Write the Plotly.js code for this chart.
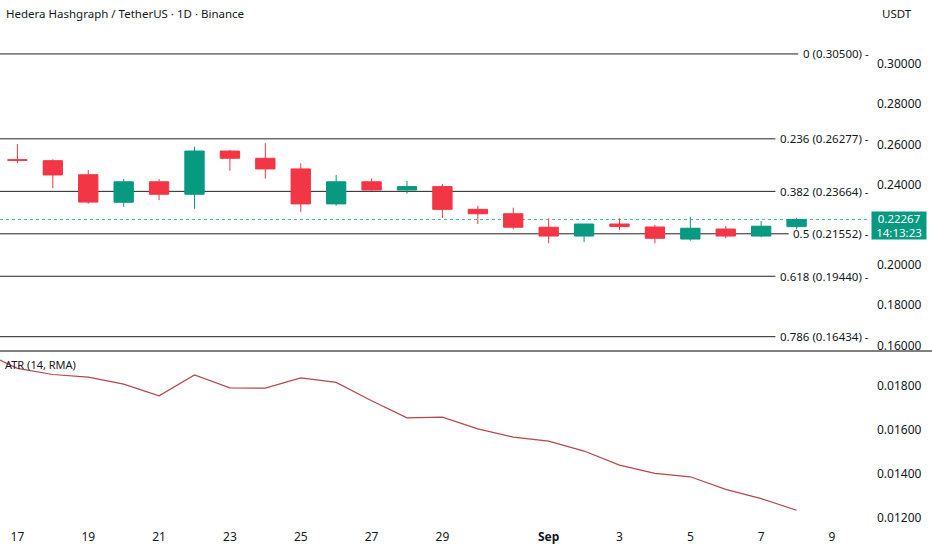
<!DOCTYPE html>
<html>
<head>
<meta charset="utf-8">
<script src="https://cdn.plot.ly/plotly-3.0.1.min.js"></script>
<style>html,body{margin:0;padding:0;background:#fff;}#chart{width:932px;height:550px;}</style>
</head>
<body>
<div id="chart"></div>
<script>
const dates = ['2025-08-17','2025-08-18','2025-08-19','2025-08-20','2025-08-21','2025-08-22','2025-08-23','2025-08-24','2025-08-25','2025-08-26','2025-08-27','2025-08-28','2025-08-29','2025-08-30','2025-08-31','2025-09-01','2025-09-02','2025-09-03','2025-09-04','2025-09-05','2025-09-06','2025-09-07','2025-09-08'];
const openP  = [0.2524,0.2519,0.2449,0.2312,0.2414,0.2352,0.2567,0.2531,0.2478,0.2304,0.2414,0.2373,0.2390,0.2277,0.2255,0.2188,0.2144,0.2204,0.2189,0.2129,0.2179,0.2144,0.2191];
const highP  = [0.2602,0.2526,0.2473,0.2428,0.2428,0.2589,0.2572,0.2606,0.2506,0.2448,0.2431,0.2418,0.2403,0.2294,0.2285,0.2232,0.2204,0.2232,0.2199,0.2240,0.2194,0.2219,0.2235];
const lowP   = [0.2506,0.2382,0.2305,0.2290,0.2323,0.2280,0.2469,0.2430,0.2265,0.2295,0.2370,0.2355,0.2234,0.2204,0.2178,0.2108,0.2114,0.2174,0.2108,0.2121,0.2133,0.2138,0.2178];
const closeP = [0.2521,0.2448,0.2313,0.2414,0.2352,0.2567,0.2531,0.2478,0.2304,0.2414,0.2373,0.2390,0.2277,0.2255,0.2188,0.2144,0.2204,0.2191,0.2133,0.2183,0.2144,0.2193,0.22267];

const atrDates = ['2025-08-16','2025-08-17','2025-08-18','2025-08-19','2025-08-20','2025-08-21','2025-08-22','2025-08-23','2025-08-24','2025-08-25','2025-08-26','2025-08-27','2025-08-28','2025-08-29','2025-08-30','2025-08-31','2025-09-01','2025-09-02','2025-09-03','2025-09-04','2025-09-05','2025-09-06','2025-09-07','2025-09-08'];
const atrValues = [0.01954,0.01878,0.01850,0.01838,0.01806,0.01753,0.01848,0.01789,0.01788,0.01835,0.01814,0.01731,0.01653,0.01656,0.01603,0.01565,0.01547,0.01502,0.01438,0.01401,0.01385,0.01328,0.01286,0.01233];

const fibRatios = ['0','0.236','0.382','0.5','0.618','0.786'];
const fibPrices = [0.30500,0.26277,0.23664,0.21552,0.19440,0.16434];

const priceTicks = [0.16,0.18,0.20,0.24,0.26,0.28,0.30];
const atrTicks = [0.012,0.014,0.016,0.018];
const xTickVals = ['2025-08-17','2025-08-19','2025-08-21','2025-08-23','2025-08-25','2025-08-27','2025-08-29','2025-09-01','2025-09-03','2025-09-05','2025-09-07','2025-09-09'];
const xTickText = ['17','19','21','23','25','27','29','<b>Sep</b>','3','5','7','9'];

const lastPrice = 0.22267;
const countdown = '14:13:23';

const GREEN = '#089981', RED = '#F23645', TXT = '#131722';
const FONT = 'Noto Sans, Open Sans, sans-serif';
const PLOT_W = 870;
const FIB_FONT = 11.5;

const measureCtx = document.createElement('canvas').getContext('2d');
measureCtx.font = FIB_FONT + 'px "Noto Sans"';

const traces = [
  {
    type: 'candlestick', x: dates, open: openP, high: highP, low: lowP, close: closeP,
    xaxis: 'x', yaxis: 'y',
    increasing: {line: {color: GREEN, width: 1}, fillcolor: GREEN},
    decreasing: {line: {color: RED, width: 1}, fillcolor: RED},
    whiskerwidth: 0, hoverinfo: 'skip', showlegend: false
  },
  {
    type: 'scatter', mode: 'lines', x: atrDates, y: atrValues,
    xaxis: 'x', yaxis: 'y2',
    line: {color: '#B5474C', width: 1.2}, hoverinfo: 'skip', showlegend: false
  }
];

const shapes = [];
const annotations = [];
fibPrices.forEach((p, i) => {
  const label = fibRatios[i] + ' (' + p.toFixed(5) + ') -';
  const w = measureCtx.measureText(label).width;
  const x1 = (PLOT_W - w - 6) / PLOT_W;
  shapes.push({type: 'line', xref: 'paper', yref: 'y', x0: 0, x1: x1, y0: p, y1: p,
    line: {color: '#222', width: 1}, layer: 'below'});
  annotations.push({xref: 'paper', yref: 'y', x: 1, y: p, xanchor: 'right', yanchor: 'middle',
    text: label, showarrow: false, borderpad: 0,
    font: {family: FONT, size: FIB_FONT, color: TXT}});
});
shapes.push({type: 'line', xref: 'paper', yref: 'y', x0: 0, x1: 1, y0: lastPrice, y1: lastPrice,
  line: {color: '#3fb8a4', width: 1, dash: 'dot'}, layer: 'below'});
// panel separator
shapes.push({type: 'line', xref: 'paper', yref: 'paper', x0: 0, x1: 1.08, y0: 0.3352, y1: 0.3352,
  line: {color: '#555', width: 1.5}});

annotations.push({xref: 'paper', yref: 'y', x: 1.001, y: lastPrice, xanchor: 'left', yanchor: 'top',
  yshift: 8, width: 50, height: 23, text: lastPrice.toFixed(5) + '<br>' + countdown, showarrow: false, align: 'center',
  bgcolor: GREEN, borderpad: 2, font: {family: FONT, size: 11.5, color: '#ffffff'}});
annotations.push({xref: 'paper', yref: 'paper', x: 0.005, y: 1, xanchor: 'left', yanchor: 'top', yshift: -4,
  text: 'Hedera Hashgraph / TetherUS · 1D · Binance', showarrow: false,
  font: {family: FONT, size: 11.5, color: TXT}});
annotations.push({xref: 'paper', yref: 'paper', x: 1.011, y: 1, xanchor: 'left', yanchor: 'top', yshift: -4,
  text: 'USDT', showarrow: false, font: {family: FONT, size: 11.5, color: TXT}});
annotations.push({xref: 'paper', yref: 'paper', x: 0.003, y: 0.3352, xanchor: 'left', yanchor: 'top', yshift: -4,
  text: 'ATR (14, RMA)', showarrow: false, font: {family: FONT, size: 11, color: TXT}});

const layout = {
  width: 932, height: 550,
  margin: {l: 0, r: 62, t: 0, b: 22},
  paper_bgcolor: '#ffffff', plot_bgcolor: '#ffffff',
  font: {family: FONT, size: 12, color: TXT},
  showlegend: false,
  boxgap: 0.22,
  xaxis: {
    type: 'date', anchor: 'y2',
    range: ['2025-08-16 12:12', '2025-09-10 01:45'],
    rangeslider: {visible: false},
    tickmode: 'array', tickvals: xTickVals, ticktext: xTickText,
    showgrid: false, zeroline: false, showline: false, ticks: '',
    tickfont: {family: FONT, size: 12, color: TXT}
  },
  yaxis: {
    domain: [0.3352, 1], side: 'right', anchor: 'x',
    range: [0.15721, 0.33184],
    tickmode: 'array', tickvals: priceTicks, ticktext: priceTicks.map(v => v.toFixed(5)),
    showgrid: false, zeroline: false, showline: false, ticks: '', ticklabelstandoff: 6,
    tickfont: {family: FONT, size: 12, color: TXT}
  },
  yaxis2: {
    domain: [0, 0.3352], side: 'right', anchor: 'x',
    range: [0.011523, 0.019568],
    tickmode: 'array', tickvals: atrTicks, ticktext: atrTicks.map(v => v.toFixed(5)),
    showgrid: false, zeroline: false, showline: false, ticks: '', ticklabelstandoff: 6,
    tickfont: {family: FONT, size: 12, color: TXT}
  },
  shapes: shapes,
  annotations: annotations
};

Plotly.newPlot('chart', traces, layout, {staticPlot: true, displayModeBar: false});
</script>
</body>
</html>
